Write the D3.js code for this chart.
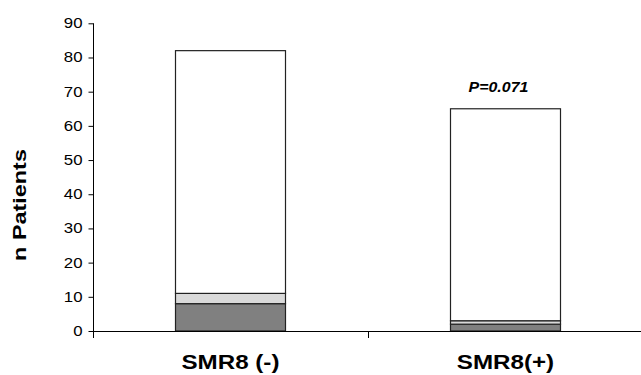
<!DOCTYPE html>
<html>
<head>
<meta charset="utf-8">
<script src="https://cdn.jsdelivr.net/npm/d3@7"></script>
<style>
  body { margin: 0; background: #fff; }
  svg { display: block; font-family: Arial, "Liberation Sans", sans-serif; }
</style>
</head>
<body>
<div id="chart"></div>
<script>
const categories = ["SMR8 (-)", "SMR8(+)"];
const segments = ["dark", "light", "white"];
const darkValues = [8, 2];
const lightValues = [3, 1];
const whiteValues = [71, 62];
const yTicks = [0, 10, 20, 30, 40, 50, 60, 70, 80, 90];
const pLabel = "P=0.071";

const width = 641;
const height = 375;
const stretch = 1.2; // text in the original looks horizontally stretched

const svg = d3.select("#chart")
    .append("svg")
    .attr("width", width)
    .attr("height", height);

const x = d3.scaleBand()
    .domain(categories)
    .range([93, 643])
    .padding(0);

const y = d3.scaleLinear()
    .domain([0, 90])
    .range([331, 23.3]);

const color = d3.scaleOrdinal()
    .domain(segments)
    .range(["#808080", "#d9d9d9", "#ffffff"]);

const rows = categories.map((c, i) => ({
    cat: c, dark: darkValues[i], light: lightValues[i], white: whiteValues[i]
}));

const series = d3.stack().keys(segments)(rows);

const barW = x.bandwidth() * 0.4;

svg.selectAll(".layer")
    .data(series)
    .enter().append("g")
    .attr("class", "layer")
    .attr("fill", d => color(d.key))
    .selectAll("rect")
    .data(d => d)
    .enter().append("rect")
    .attr("x", d => x(d.data.cat) + (x.bandwidth() - barW) / 2)
    .attr("y", d => y(d[1]))
    .attr("width", barW)
    .attr("height", d => y(d[0]) - y(d[1]))
    .attr("stroke", "#222")
    .attr("stroke-width", 1.2);

function widen(sel, k) {
    sel.each(function() {
        const w = this.getComputedTextLength();
        d3.select(this)
            .attr("textLength", w * k)
            .attr("lengthAdjust", "spacingAndGlyphs");
    });
}

// y axis
const yAxis = d3.axisLeft(y)
    .tickValues(yTicks)
    .tickSize(5)
    .tickPadding(6);

const yG = svg.append("g")
    .attr("transform", "translate(93.5,0)")
    .call(yAxis);
yG.select(".domain").remove();
yG.append("line")
    .attr("x1", 0).attr("x2", 0)
    .attr("y1", y(90)).attr("y2", y(0) + 7)
    .attr("stroke", "#000");
yG.selectAll(".tick line").attr("stroke", "#000");
yG.selectAll(".tick text")
    .attr("fill", "#000")
    .style("font-size", "14px")
    .style("font-family", "Arial, 'Liberation Sans', sans-serif")
    .call(widen, 1.2);

// x axis
svg.append("line")
    .attr("x1", 93).attr("x2", 643)
    .attr("y1", y(0) + 0.5).attr("y2", y(0) + 0.5)
    .attr("stroke", "#000");

svg.selectAll(".xtick")
    .data(categories.slice(1))
    .enter().append("line")
    .attr("class", "xtick")
    .attr("x1", d => x(d) + 0.5).attr("x2", d => x(d) + 0.5)
    .attr("y1", y(0)).attr("y2", y(0) + 7)
    .attr("stroke", "#000");

svg.selectAll(".xlabel")
    .data(categories)
    .enter().append("text")
    .attr("class", "xlabel")
    .attr("x", d => x(d) + x.bandwidth() / 2)
    .attr("y", 368.5)
    .attr("text-anchor", "middle")
    .style("font-size", "21px")
    .style("font-weight", "bold")
    .text(d => d)
    .call(widen, 1.15);

// y label
svg.append("text")
    .attr("transform", "translate(25.5,205) rotate(-90)")
    .attr("text-anchor", "middle")
    .style("font-size", "18px")
    .style("font-weight", "bold")
    .text("n Patients")
    .call(widen, 1.3);

// p value
svg.append("text")
    .attr("x", x(categories[1]) + x.bandwidth() / 2 - 7)
    .attr("y", y(darkValues[1] + lightValues[1] + whiteValues[1]) - 17)
    .attr("text-anchor", "middle")
    .style("font-size", "14.5px")
    .style("font-weight", "bold")
    .style("font-style", "italic")
    .text(pLabel)
    .call(widen, 1.1);
</script>
</body>
</html>
